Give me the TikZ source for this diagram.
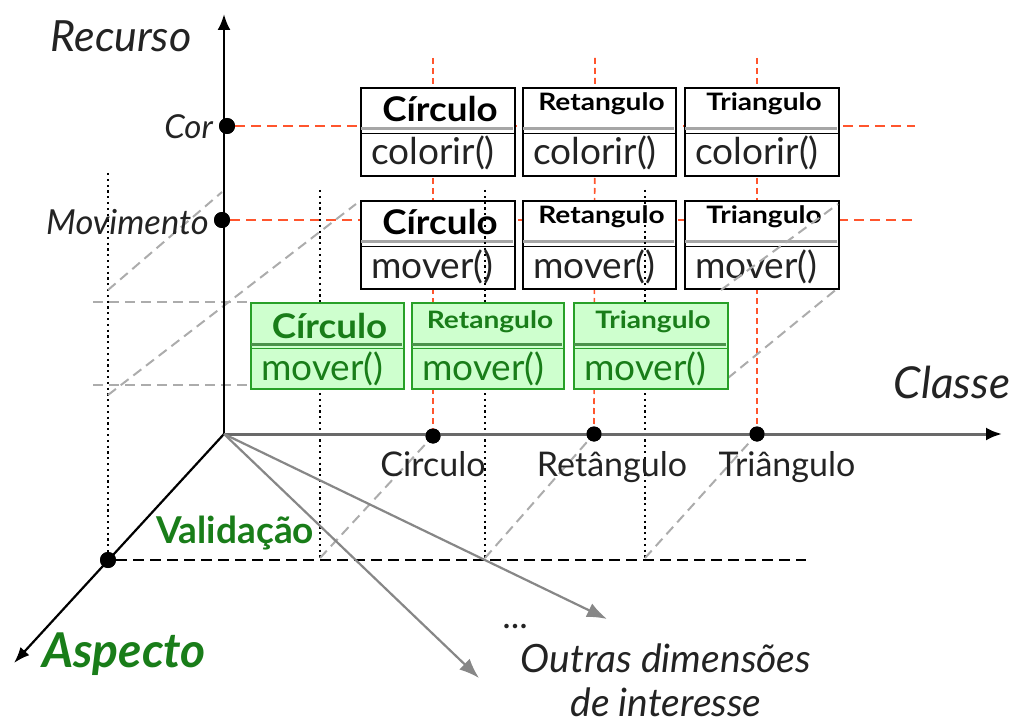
\documentclass[tikz,border=0pt]{standalone}
\usepackage{fontspec}
\setmainfont{Lato}
\usetikzlibrary{arrows.meta}
\definecolor{redd}{RGB}{255,85,45}
\definecolor{grnfill}{RGB}{206,255,206}
\definecolor{grnline}{RGB}{40,160,40}
\definecolor{grntext}{RGB}{25,125,25}
\definecolor{lgray}{RGB}{172,172,172}
\definecolor{axgray}{RGB}{105,105,105}
\definecolor{arrgray}{RGB}{135,135,135}
\definecolor{txtgray}{RGB}{35,35,35}
\tikzset{
  reddash/.style={draw=redd, line width=2pt, dash pattern=on 10pt off 6pt},
  redvdash/.style={draw=redd, line width=1.7pt, dash pattern=on 6pt off 4pt},
  dotline/.style={draw=black, line width=2pt, dash pattern=on 2.2pt off 3.6pt},
  graydash/.style={draw=lgray, line width=2pt, dash pattern=on 10pt off 6pt},
  valdash/.style={draw=black, line width=1.8pt, dash pattern=on 11pt off 6pt},
  dot/.style={circle, fill=black, inner sep=0pt, minimum size=16pt},
  blkbox/.style={draw=black, fill=white, line width=2pt, inner sep=0pt},
  grnbox/.style={draw=grnline, fill=grnfill, line width=1.7pt, inner sep=0pt},
  blkdbl/.style={draw=gray!70, line width=3pt},
  grndbl/.style={draw=grnline!60!gray, line width=3pt},
  blksep/.style={draw=black, line width=1.7pt},
  grnsep/.style={draw=grnline, line width=1.7pt},
  blkttl/.style={text=black, inner sep=0pt},
  grnttl/.style={text=grntext, inner sep=0pt},
  blkmth/.style={text=txtgray, inner sep=0pt, font=\fontsize{37}{37}\selectfont},
  grnmth/.style={text=grntext, inner sep=0pt, font=\fontsize{37}{37}\selectfont},
  lbl/.style={inner sep=0pt, text=txtgray},
}
\newcommand{\bigttl}[1]{\scalebox{1.08}[1]{\fontsize{34}{34}\selectfont\bfseries #1}}
\newcommand{\smlttl}[1]{\scalebox{1.17}[1]{\fontsize{24}{24}\selectfont\bfseries #1}}
% #1 name, #2 x, #3 top, #4 width, #5 height, #6 kind, #7 title, #8 title baseline offset, #9 method
\newcommand{\umlbox}[9]{%
  \node[#6box, anchor=north west, minimum width=#4pt, minimum height=#5pt] (#1) at (#2,#3) {};
  \draw[#6dbl] ({#2+1},{#3+42}) -- ({#2+#4-1},{#3+42});
  \draw[#6sep] (#2,{#3+46.5}) -- ({#2+#4},{#3+46.5});
  \node[#6ttl, anchor=base] (#1-t) at ({#2+#4/2+3},{#3+#8}) {#7};
  \node[#6mth, anchor=base west] (#1-m) at ({#2+11},{#3+78}) {#9};
}
\begin{document}
\begin{tikzpicture}[x=1pt,y=-1pt]
\useasboundingbox (0,0) rectangle (1012,722);
% key points
\coordinate (O) at (224,434);
\coordinate (ytip) at (224,14);
\coordinate (xtip) at (1002,434);
\coordinate (atip) at (14,663);
\coordinate (g1tip) at (607,619);
\coordinate (g2tip) at (479,678);
\coordinate (corend) at (915,126);
\coordinate (movend) at (915,220);
\coordinate (valend) at (806,560);
\coordinate (rv1) at (433,58);
\coordinate (rv2) at (595,58);
\coordinate (rv3) at (757,58);
% dots (nodes)
\node[dot] (cor) at (227,126) {};
\node[dot] (mov) at (222,220) {};
\node[dot, minimum size=15pt] (ccirc) at (433,436) {};
\node[dot, minimum size=15pt] (cret) at (594,434) {};
\node[dot, minimum size=15pt] (ctri) at (757,434) {};
\node[dot] (val) at (108,560) {};
% red dashed grid
\draw[reddash] (cor) -- (corend);
\draw[reddash] (mov) -- (movend);
\draw[redvdash] (rv1) -- (ccirc);
\draw[redvdash] (rv2) -- (cret);
\draw[redvdash] (rv3) -- (ctri);
% black class boxes
\umlbox{c1}{360}{87}{154}{88}{blk}{\bigttl{Círculo}}{35}{colorir()}
\umlbox{c2}{522}{87}{153}{88}{blk}{\smlttl{Retangulo}}{24}{colorir()}
\umlbox{c3}{684}{87}{154}{88}{blk}{\smlttl{Triangulo}}{24}{colorir()}
\umlbox{m1}{360}{200}{154}{88}{blk}{\bigttl{Círculo}}{35}{mover()}
\umlbox{m2}{522}{200}{153}{88}{blk}{\smlttl{Retangulo}}{24}{mover()}
\umlbox{m3}{684}{200}{154}{88}{blk}{\smlttl{Triangulo}}{24}{mover()}
% dotted projections
\coordinate (d0t) at (108,173); \coordinate (d0b) at (108,558);
\coordinate (d1t) at (320,190); \coordinate (d1b) at (320,558);
\coordinate (d2t) at (485,190); \coordinate (d2b) at (485,558);
\coordinate (d3t) at (645,190); \coordinate (d3b) at (645,558);
\draw[dotline] (d0t) -- (d0b);
\draw[dotline] (d1t) -- (d1b);
\draw[dotline] (d2t) -- (d2b);
\draw[dotline] (d3t) -- (d3b);
% gray dashed perspective lines
\coordinate (ga1) at (108,290); \coordinate (gb1) at (222,192);
\coordinate (ga2) at (108,395); \coordinate (gb2) at (356,204);
\coordinate (gh1a) at (93,302); \coordinate (gh1b) at (250,302);
\coordinate (gh2a) at (93,385); \coordinate (gh2b) at (250,385);
\coordinate (ga3) at (721,290); \coordinate (gb3) at (838,204);
\coordinate (ga4) at (728,378); \coordinate (gb4) at (838,288);
\draw[graydash] (ga1) -- (gb1);
\draw[graydash] (ga2) -- (gb2);
\draw[graydash] (gh1a) -- (gh1b);
\draw[graydash] (gh2a) -- (gh2b);
\draw[graydash] (ga3) -- (gb3);
\draw[graydash] (ga4) -- (gb4);
\draw[graydash] (d1b) -- (ccirc);
\draw[graydash] (d2b) -- (cret);
\draw[graydash] (d3b) -- (ctri);
% green boxes
\umlbox{v1}{250}{302}{153}{86}{grn}{\bigttl{Círculo}}{36}{mover()}
\umlbox{v2}{411}{302}{152}{86}{grn}{\smlttl{Retangulo}}{26}{mover()}
\umlbox{v3}{573}{302}{154}{86}{grn}{\smlttl{Triangulo}}{26}{mover()}
% validation dashed line
\draw[valdash] (val) -- (valend);
% axes
\draw[draw=axgray, line width=3pt, -{Latex[length=16pt,width=13pt,black]}] (O) -- (xtip);
\draw[draw=black, line width=2.6pt, -{Latex[length=16pt,width=13pt]}] (O) -- (ytip);
\draw[draw=black, line width=2.2pt, -{Latex[length=16pt,width=12pt]}] (O) -- (atip);
\draw[draw=arrgray, line width=2.2pt, -{Latex[length=20pt,width=15pt]}] (O) -- (g1tip);
\draw[draw=arrgray, line width=2.2pt, -{Latex[length=20pt,width=15pt]}] (O) -- (g2tip);
% redraw dots on top
\node[dot] at (cor) {};
\node[dot] at (mov) {};
\node[dot, minimum size=15pt] at (ccirc) {};
\node[dot, minimum size=15pt] at (cret) {};
\node[dot, minimum size=15pt] at (ctri) {};
\node[dot] at (val) {};
% labels
\node[lbl, anchor=base, font=\fontsize{43}{43}\selectfont\itshape] (recurso) at (121,52) {Recurso};
\node[lbl, anchor=base east, font=\fontsize{33}{33}\selectfont\itshape] (corl) at (213,139) {Cor};
\node[lbl, anchor=base east, font=\fontsize{34.5}{34.5}\selectfont\itshape] (movl) at (209,234) {Movimento};
\node[lbl, anchor=base, font=\fontsize{44}{44}\selectfont\itshape] (classe) at (952,398) {Classe};
\node[lbl, anchor=base, font=\fontsize{34}{34}\selectfont] (lcirc) at (433,476) {Circulo};
\node[lbl, anchor=base, font=\fontsize{34}{34}\selectfont] (lret) at (612,476) {Retângulo};
\node[lbl, anchor=base, font=\fontsize{34}{34}\selectfont] (ltri) at (787,476) {Triângulo};
\node[inner sep=0pt, anchor=base, text=grntext, font=\fontsize{37}{37}\selectfont\bfseries] (valid) at (235,543) {Validação};
\node[inner sep=0pt, anchor=base, text=grntext, font=\fontsize{48}{48}\selectfont\bfseries\itshape] (aspecto) at (124,667) {Aspecto};
\node[lbl, anchor=base, font=\fontsize{36}{36}\selectfont] (dots) at (515,628) {...};
\node[lbl, anchor=base, font=\fontsize{39}{39}\selectfont\itshape] (outras1) at (666,672) {Outras dimensões};
\node[lbl, anchor=base, font=\fontsize{39}{39}\selectfont\itshape] (outras2) at (666,716) {de interesse};
\end{tikzpicture}
\end{document}
